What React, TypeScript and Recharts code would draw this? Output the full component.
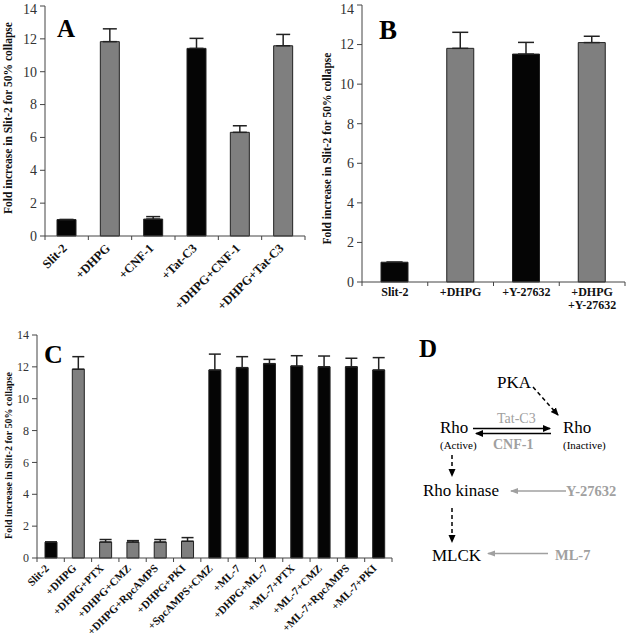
import React from 'react';
import { BarChart, Bar, XAxis, YAxis, Cell, ErrorBar } from 'recharts';

const SERIF = 'Liberation Serif';
const BLACK = '#050505';
const GRAY = '#7f7f7f';
const LIGHT = '#a0a0a0';

const yTicks = [0, 2, 4, 6, 8, 10, 12, 14];
const yTitle = 'Fold increase in Slit-2 for 50% collapse';

// A
const catsA = ['Slit-2', '+DHPG', '+CNF-1', '+Tat-C3', '+DHPG+CNF-1', '+DHPG+Tat-C3'];
const valsA = [1.0, 11.83, 1.03, 11.42, 6.31, 11.58];
const errA = [0, 0.78, 0.15, 0.61, 0.4, 0.69];
const grayA = [false, true, false, false, true, true];

// B
const catsB = ['Slit-2', '+DHPG', '+Y-27632', '+DHPG +Y-27632'];
const valsB = [1.0, 11.81, 11.52, 12.1];
const errB = [0, 0.81, 0.59, 0.32];
const grayB = [false, true, false, true];

// C
const catsC = [
  'Slit-2', '+DHPG', '+DHPG+PTX', '+DHPG+CMZ', '+DHPG+RpcAMPS', '+DHPG+PKI', '+SpcAMPS+CMZ',
  '+ML-7', '+DHPG+ML-7', '+ML-7+PTX', '+ML-7+CMZ', '+ML-7+RpcAMPS', '+ML-7+PKI',
];
const valsC = [1.0, 11.85, 1.0, 1.0, 1.0, 1.05, 11.8, 11.95, 12.2, 12.05, 12.0, 12.0, 11.8];
const errC = [0, 0.79, 0.16, 0.09, 0.16, 0.23, 1.0, 0.69, 0.27, 0.65, 0.68, 0.54, 0.78];
const grayC = [false, true, true, true, true, true, false, false, false, false, false, false, false];

const rows = (cats: string[], vals: number[], errs: number[], gray: boolean[]) =>
  cats.map((name, i) => ({ name, value: vals[i], err: [0, errs[i]], gray: gray[i] }));

const dataA = rows(catsA, valsA, errA, grayA);
const dataB = rows(catsB, valsB, errB, grayB);
const dataC = rows(catsC, valsC, errC, grayC);

const YTitle = (props: any) => {
  const vb = props.viewBox || {};
  const cy = (vb.y ?? 0) + (vb.height ?? 0) / 2 + (props.shift || 0);
  return (
    <text
      transform={`translate(${props.tx},${cy}) rotate(-90)`}
      textAnchor="middle"
      style={{ fontFamily: SERIF, fontWeight: 'bold', fontSize: props.size }}
      fill="#111"
    >
      {yTitle}
    </text>
  );
};

const YTick = (props: any) => {
  const { x, y, payload, fs } = props;
  return (
    <text x={x} y={y} dy="0.35em" textAnchor="end" fill="#333" style={{ fontFamily: SERIF, fontSize: fs }}>
      {payload.value}
    </text>
  );
};

// category-boundary tick marks + slanted label
const SlantTick = (props: any) => {
  const { x, y, payload, index, band, count, fontSize, dx, dy } = props;
  const half = payload?.offset || band / 2;
  return (
    <g>
      <line x1={x - half} y1={y} x2={x - half} y2={y + 4} stroke="#444" />
      {index === count - 1 && <line x1={x + half} y1={y} x2={x + half} y2={y + 4} stroke="#444" />}
      <text
        transform={`translate(${x + dx},${y + dy}) rotate(-45)`}
        textAnchor="end"
        fill="#111"
        style={{ fontFamily: SERIF, fontWeight: 'bold', fontSize }}
      >
        {payload.value}
      </text>
    </g>
  );
};

const FlatTick = (props: any) => {
  const { x, y, payload, index, band, count } = props;
  const half = payload?.offset || band / 2;
  const lines = String(payload.value).split(' ');
  return (
    <g>
      <line x1={x - half} y1={y} x2={x - half} y2={y + 4} stroke="#444" />
      {index === count - 1 && <line x1={x + half} y1={y} x2={x + half} y2={y + 4} stroke="#444" />}
      <text textAnchor="middle" fill="#111" style={{ fontFamily: SERIF, fontWeight: 'bold', fontSize: 12 }}>
        {lines.map((l, i) => (
          <tspan key={i} x={x} y={y + 14 + i * 13}>{l}</tspan>
        ))}
      </text>
    </g>
  );
};

const Panel = (p: any) => {
  const band = (p.width - p.yw - p.right) / p.data.length;
  const Tick = p.flat ? FlatTick : SlantTick;
  return (
    <BarChart width={p.width} height={p.height} data={p.data} margin={{ top: p.top, right: p.right, left: 0, bottom: 0 }}>
      <XAxis
        dataKey="name"
        interval={0}
        height={p.xh}
        tickLine={false}
        tickSize={0}
        tickMargin={0}
        stroke="#444"
        tick={(t: any) => <Tick {...t} band={band} count={p.data.length} fontSize={p.xfs} dx={p.ldx} dy={p.ldy} />}
      />
      <YAxis
        domain={[0, 14]}
        ticks={yTicks}
        width={p.yw}
        tickSize={5}
        tickMargin={3}
        stroke="#444"
        tick={(t: any) => <YTick {...t} fs={p.yfs} />}
        label={<YTitle tx={p.titleX} size={p.titleSize} shift={p.titleShift} />}
      />
      <Bar dataKey="value" barSize={p.barSize} stroke="#222" strokeWidth={1} isAnimationActive={false}>
        {p.data.map((d: any, i: number) => (
          <Cell key={i} fill={d.gray ? GRAY : BLACK} />
        ))}
        <ErrorBar dataKey="err" width={p.capW} stroke="#222" strokeWidth={1.5} direction="y" isAnimationActive={false} />
      </Bar>
    </BarChart>
  );
};

const letter = (t: string, x: number, y: number, s: number) => (
  <text x={x} y={y} fill="#000" style={{ fontFamily: SERIF, fontWeight: 'bold', fontSize: s }}>{t}</text>
);

const dText = (t: string, x: number, y: number, s: number, gray?: boolean, bold?: boolean) => (
  <text x={x} y={y} fill={gray ? LIGHT : '#000'} style={{ fontFamily: SERIF, fontSize: s, fontWeight: bold ? 'bold' : 'normal' }}>{t}</text>
);

export default function App() {
  return (
    <div style={{ position: 'absolute', left: 0, top: 0, width: 627, height: 640, background: '#fff', fontFamily: SERIF }}>
      <div style={{ position: 'absolute', left: 0, top: 0 }}>
        <Panel data={dataA} width={310} height={320} yw={45} right={5} top={6} xh={84}
          barSize={19} capW={7} xfs={12.5} ldx={1} ldy={13} yfs={14} titleX={12} titleSize={11.5} titleShift={-3} />
      </div>
      <div style={{ position: 'absolute', left: 310, top: 0 }}>
        <Panel data={dataB} width={317} height={320} yw={52} right={2} top={5} xh={38} flat
          barSize={27} capW={8} xfs={12} yfs={14} titleX={21} titleSize={11.5} titleShift={5} />
      </div>
      <div style={{ position: 'absolute', left: 0, top: 320 }}>
        <Panel data={dataC} width={400} height={320} yw={37} right={8} top={15} xh={82}
          barSize={12} capW={6} xfs={11} ldx={-1} ldy={11} yfs={12} titleX={12} titleSize={10} titleShift={9} />
      </div>
      <svg width={627} height={640} style={{ position: 'absolute', left: 0, top: 0, pointerEvents: 'none' }}>
        <defs>
          <marker id="hk" markerWidth="8" markerHeight="8" refX="7" refY="4" orient="auto" markerUnits="userSpaceOnUse">
            <path d="M0,0.5 L8,4 L0,7.5 z" fill="#000" />
          </marker>
          <marker id="hg" markerWidth="8" markerHeight="8" refX="7" refY="4" orient="auto" markerUnits="userSpaceOnUse">
            <path d="M0,1 L8,4 L0,7 z" fill={LIGHT} />
          </marker>
        </defs>
        {letter('A', 57, 37, 25)}
        {letter('B', 379, 39, 27)}
        {letter('C', 44, 363, 26)}
        {letter('D', 419, 357, 25)}

        {dText('PKA', 497, 388, 17)}
        {dText('Rho', 440, 433, 17)}
        {dText('(Active)', 440, 449, 11)}
        {dText('Rho', 563, 433, 17)}
        {dText('(Inactive)', 563, 449, 11)}
        {dText('Rho kinase', 423, 496, 17)}
        {dText('MLCK', 432, 561, 17)}
        {dText('Tat-C3', 497, 423, 14, true)}
        {dText('CNF-1', 493, 449, 14, true, true)}
        {dText('Y-27632', 566, 496, 14.5, true, true)}
        {dText('ML-7', 555, 560, 14.5, true, true)}

        <line x1={473} y1={428.5} x2={550} y2={428.5} stroke="#000" strokeWidth={1.5} markerEnd="url(#hk)" />
        <line x1={551} y1={433.5} x2={476} y2={433.5} stroke="#000" strokeWidth={1.5} markerEnd="url(#hk)" />
        <line x1={533} y1={387} x2={558} y2={415} stroke="#000" strokeWidth={1.5} strokeDasharray="4 3" markerEnd="url(#hk)" />
        <line x1={452} y1={455} x2={452} y2={476} stroke="#000" strokeWidth={1.5} strokeDasharray="4 3" markerEnd="url(#hk)" />
        <line x1={452} y1={508} x2={452} y2={542} stroke="#000" strokeWidth={1.5} strokeDasharray="4 3" markerEnd="url(#hk)" />
        <line x1={566} y1={491} x2={511} y2={491} stroke={LIGHT} strokeWidth={1.3} markerEnd="url(#hg)" />
        <line x1={548} y1={553.5} x2={488} y2={553.5} stroke={LIGHT} strokeWidth={1.3} markerEnd="url(#hg)" />
      </svg>
    </div>
  );
}
